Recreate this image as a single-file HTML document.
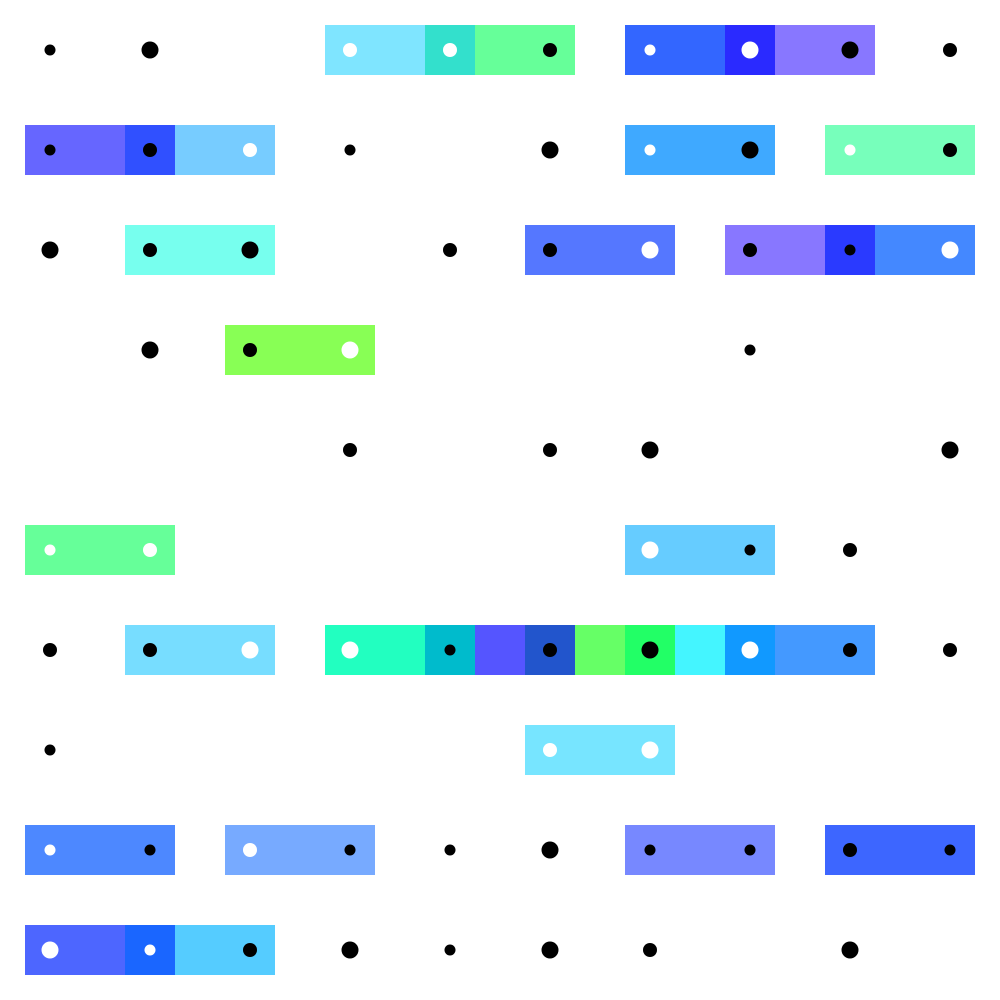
<!DOCTYPE html>
<html><head><meta charset="utf-8"><style>html,body{margin:0;padding:0;background:#fff}svg{display:block}</style></head>
<body>
<svg id="chart" width="1000" height="1000" viewBox="0 0 1000 1000" xmlns="http://www.w3.org/2000/svg"></svg>
<script>
// rects: row, startCol, endCol (data units), color
const rectRows = [0,0,0,0,0,0, 1,1,1,1,1, 2,2,2,2,2, 3, 5,5, 6,6,6,6,6,6,6,6,6,6, 7, 8,8,8,8, 9,9,9];
const rectStart = [2.75,3.75,4.25,5.75,6.75,7.25, -0.25,0.75,1.25,5.75,7.75, 0.75,4.75,6.75,7.75,8.25, 1.75, -0.25,5.75, 0.75,2.75,3.75,4.25,4.75,5.25,5.75,6.25,6.75,7.25, 4.75, -0.25,1.75,5.75,7.75, -0.25,0.75,1.25];
const rectEnd = [3.75,4.25,5.25,6.75,7.25,8.25, 0.75,1.25,2.25,7.25,9.25, 2.25,6.25,7.75,8.25,9.25, 3.25, 1.25,7.25, 2.25,3.75,4.25,4.75,5.25,5.75,6.25,6.75,7.25,8.25, 6.25, 1.25,3.25,7.25,9.25, 0.75,1.25,2.25];
const rectColors = ["#7fe5ff","#33e0cc","#66ff99","#3366ff","#2a2aff","#8877ff", "#6666ff","#3050ff","#77ccff","#3fa9ff","#77ffbb", "#77ffee","#5577ff","#8877ff","#2a3aff","#4488ff", "#88ff55", "#66ff99","#66ccff", "#77ddff","#22ffc0","#00bbcc","#5555ff","#2255cc","#66ff66","#22ff66","#44f5ff","#1199ff","#4499ff", "#77e5ff", "#4d88ff","#77aaff","#7788ff","#3d66ff", "#4d66ff","#1a66ff","#55ccff"];
// dots: row, col, size class (1 small,2 medium,3 large), white?
const dotRows = [0,0,0,0,0,0,0,0,0, 1,1,1,1,1,1,1,1,1, 2,2,2,2,2,2,2,2,2, 3,3,3,3, 4,4,4,4, 5,5,5,5,5, 6,6,6,6,6,6,6,6,6,6, 7,7,7, 8,8,8,8,8,8,8,8,8,8, 9,9,9,9,9,9,9,9];
const dotCols = [0,1,3,4,5,6,7,8,9, 0,1,2,3,5,6,7,8,9, 0,1,2,4,5,6,7,8,9, 1,2,3,7, 3,5,6,9, 0,1,6,7,8, 0,1,2,3,4,5,6,7,8,9, 0,5,6, 0,1,2,3,4,5,6,7,8,9, 0,1,2,3,4,5,6,8];
const dotSizes = [1,3,2,2,2,1,3,3,2, 1,2,2,1,3,1,3,1,2, 3,2,3,2,2,3,2,1,3, 3,2,3,1, 2,2,3,3, 1,2,3,1,2, 2,2,3,3,1,2,3,3,2,2, 1,2,3, 1,1,2,1,1,3,1,1,2,1, 3,1,2,3,1,3,2,3];
const dotWhite = [0,0,1,1,0,1,1,0,0, 0,0,1,0,0,1,0,1,0, 0,0,0,0,0,1,0,0,1, 0,0,1,0, 0,0,0,0, 1,1,1,0,0, 0,0,1,1,0,0,0,1,0,0, 0,1,1, 1,0,1,0,0,0,0,0,0,0, 1,1,0,0,0,0,0,0];

const svg = document.getElementById('chart');
const NS = 'http://www.w3.org/2000/svg';
const xs = c => 50 + 100 * c;
const ys = r => 50 + 100 * r;
const radius = s => [0, 5.5, 7, 8.5][s];

for (let i = 0; i < rectRows.length; i++) {
  const r = document.createElementNS(NS, 'rect');
  r.setAttribute('x', xs(rectStart[i]));
  r.setAttribute('y', ys(rectRows[i]) - 25);
  r.setAttribute('width', xs(rectEnd[i]) - xs(rectStart[i]));
  r.setAttribute('height', 50);
  r.setAttribute('fill', rectColors[i]);
  
  
  svg.appendChild(r);
}
for (let i = 0; i < dotRows.length; i++) {
  const c = document.createElementNS(NS, 'circle');
  c.setAttribute('cx', xs(dotCols[i]));
  c.setAttribute('cy', ys(dotRows[i]));
  c.setAttribute('r', radius(dotSizes[i]));
  c.setAttribute('fill', dotWhite[i] ? '#fff' : '#000');
  
  
  svg.appendChild(c);
}
</script>
</body></html>
